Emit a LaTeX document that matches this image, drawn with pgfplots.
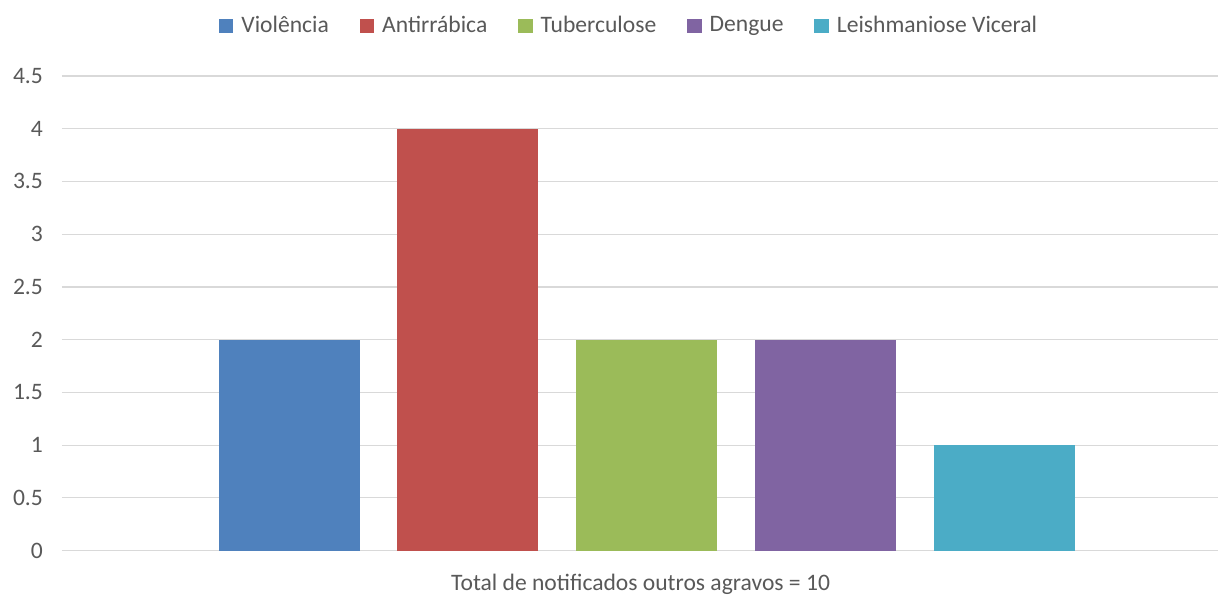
\documentclass[border=0pt]{standalone}
\usepackage{pgfplots}
\pgfplotsset{compat=1.18}
\usepackage{fontspec}
\setmainfont{Carlito}
\definecolor{c1}{HTML}{4F81BD}
\definecolor{c2}{HTML}{C0504D}
\definecolor{c3}{HTML}{9BBB59}
\definecolor{c4}{HTML}{8064A2}
\definecolor{c5}{HTML}{4BACC6}
\definecolor{gridc}{HTML}{D9D9D9}
\definecolor{txt}{HTML}{595959}
\begin{document}
\begin{tikzpicture}
\begin{axis}[
  scale only axis,
  width=578.5pt, height=237.5pt,
  ymin=0, ymax=4.5,
  xmin=-1.271, xmax=5.198,
  ytick={0,0.5,...,4.5},
  ymajorgrids,
  grid style={gridc, line width=0.6pt},
  axis x line*=bottom,
  x axis line style={gridc, line width=0.8pt, -},
  y axis line style={draw=none},
  xtick={2},
  xticklabels={Total de notificados outros agravos = 10},
  major tick length=0pt,
  tick label style={font=\fontsize{11.8}{14}\selectfont, text=txt},
  yticklabel style={xshift=-6pt},
  xticklabel style={yshift=-8pt, xshift=-3pt},
  /pgf/number format/assume math mode=true,
  ybar, bar shift=0pt, bar width=0.788,
  every axis plot/.append style={draw=none},
  legend style={at={(0.5,1)}, anchor=south, yshift=16pt, xshift=-5pt, draw=none,
    font=\fontsize{11.8}{14}\selectfont, text=txt,
    /tikz/every even column/.append style={column sep=13.5pt}},
  legend columns=5,
  legend image code/.code={\fill[#1] (0pt,-3.6pt) rectangle (7.2pt,3.6pt);},
  legend cell align=left,
  clip=false,
]
\addplot[fill=c1] coordinates {(0,2)};
\addplot[fill=c2] coordinates {(1,4)};
\addplot[fill=c3] coordinates {(2,2)};
\addplot[fill=c4] coordinates {(3,2)};
\addplot[fill=c5] coordinates {(4,1)};
\legend{\hspace{2pt}Violência, \hspace{2pt}Antirrábica, \hspace{2pt}Tuberculose, \hspace{2pt}Dengue, \hspace{2pt}Leishmaniose Viceral}
\end{axis}
\path ([xshift=-31pt,yshift=-21pt]current axis.south west) rectangle ([yshift=38pt]current axis.north east);
\end{tikzpicture}
\end{document}
